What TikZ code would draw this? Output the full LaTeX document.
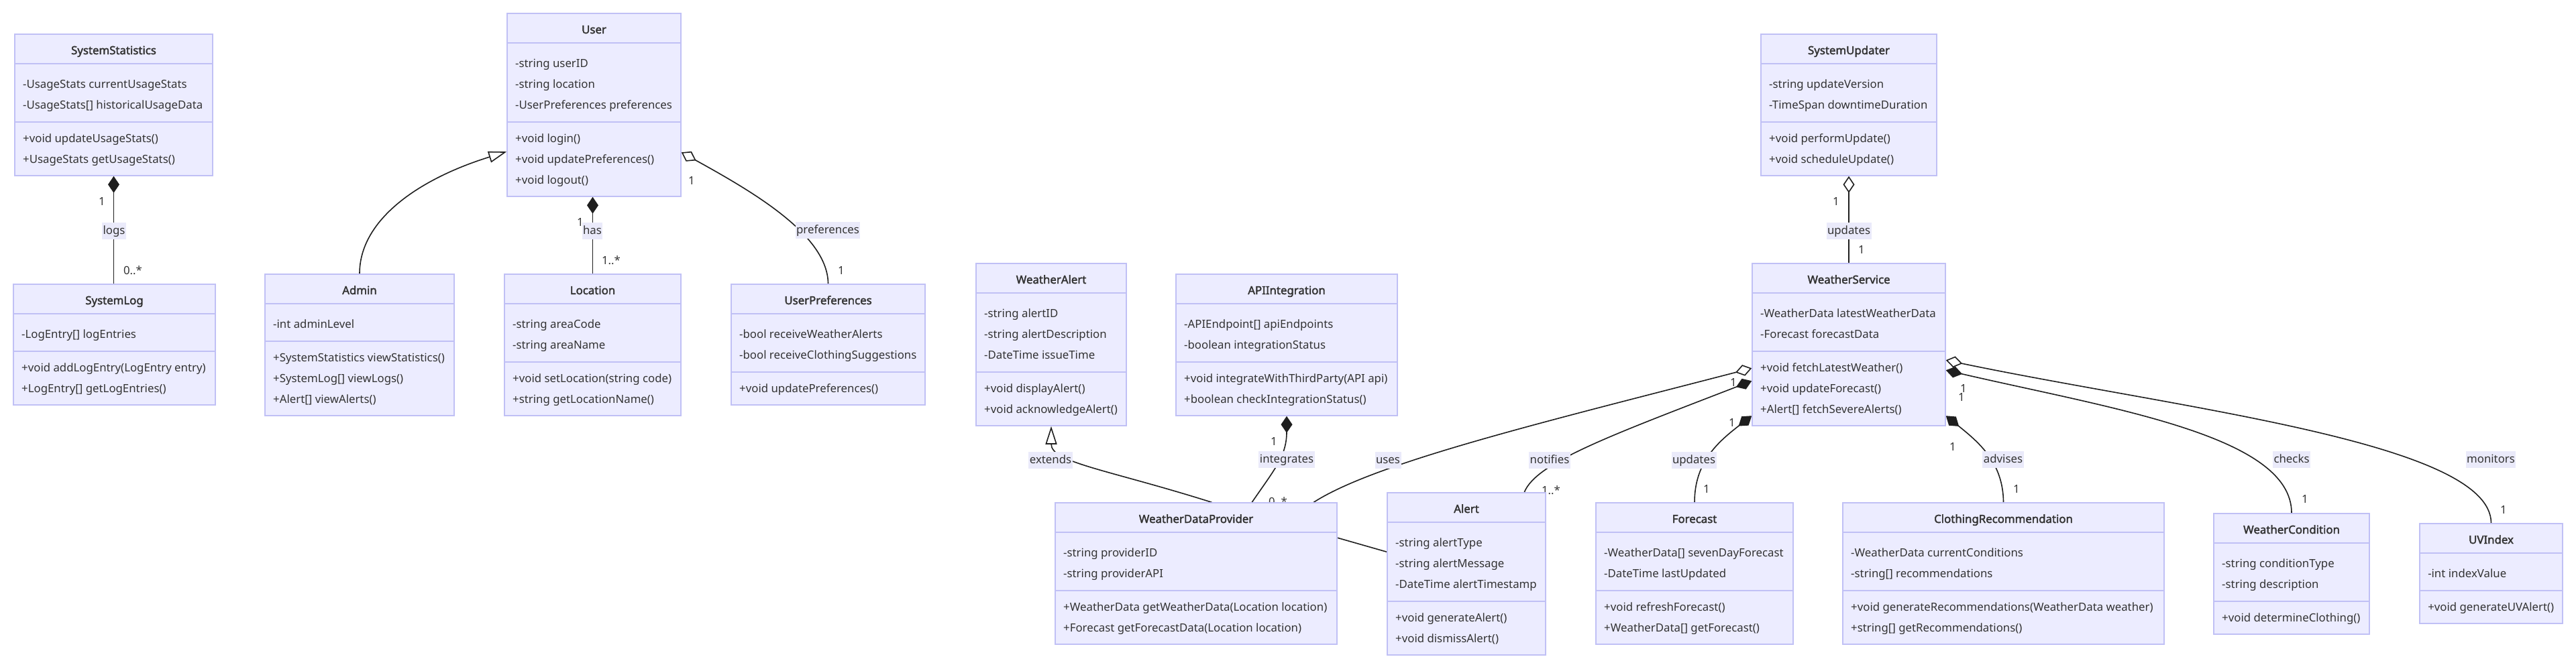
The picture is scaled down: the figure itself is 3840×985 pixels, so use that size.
\documentclass[tikz,border=0pt]{standalone}
\usepackage{fontspec}
\setmainfont{Noto Sans}[AutoFakeBold=2.2]
\usetikzlibrary{arrows.meta,calc}
\definecolor{boxfill}{RGB}{236,236,255}
\definecolor{boxborder}{RGB}{192,192,245}
\definecolor{txt}{RGB}{51,51,51}
\definecolor{linec}{RGB}{30,30,30}
\definecolor{lblbg}{RGB}{234,234,250}
\pgfdeclarelayer{background}
\pgfsetlayers{background,main}
\newcommand{\dfont}{\fontsize{16.8}{20}\selectfont}
\tikzset{
 classbox/.style={draw=boxborder, fill=boxfill, line width=1.5pt, inner sep=0pt, rectangle},
 sepline/.style={draw=boxborder, line width=1.5pt},
 titletext/.style={font=\dfont\bfseries, text=txt, inner sep=0pt, text height=13pt, text depth=3pt},
 membertext/.style={font=\dfont, text=txt, anchor=west, inner sep=0pt, text height=13pt, text depth=3pt},
 edge/.style={draw=linec, line width=1.6pt},
 elabel/.style={fill=lblbg, font=\dfont, text=txt, inner xsep=1.5pt, inner ysep=4.5pt, text height=13pt, text depth=3pt},
 card/.style={font=\dfont, text=txt, inner sep=0pt},
 comp/.style={{Diamond[length=25pt,width=17pt]}-},
 aggr/.style={{Diamond[open,length=25pt,width=17pt]}-},
 inher/.style={-{Triangle[open,length=27pt,width=17pt]}},
}
% #1 name #2 xl #3 xr #4 ytop #5 nattr #6 nmeth #7 title #8 attrs #9 methods
\newcommand{\umlclass}[9]{%
  \pgfmathsetmacro{\bw}{#3-#2}%
  \pgfmathsetmacro{\bh}{87+31*(#5+#6)}%
  \pgfmathsetmacro{\sa}{#4+44}%
  \pgfmathsetmacro{\sb}{#4+69+31*#5}%
  \node[classbox, minimum width=\bw pt, minimum height=\bh pt] (#1) at ({(#2+#3)/2}, {#4+\bh/2}) {};
  \draw[sepline] (#2,\sa) -- (#3,\sa);
  \draw[sepline] (#2,\sb) -- (#3,\sb);
  \node[titletext] at ({(#2+#3)/2}, {#4+25}) {#7};
  \foreach \mtx [count=\mi from 0] in {#8} { \node[membertext] at ({#2+12}, {\sa+31+31*\mi}) {\mtx}; }
  \foreach \mtx [count=\mi from 0] in {#9} { \node[membertext] at ({#2+12}, {\sb+25+31*\mi}) {\mtx}; }
}
\begin{document}
\begin{tikzpicture}[x=1pt,y=-1pt]
\useasboundingbox (0,0) rectangle (3840,985);

\umlclass{SysStat}{22}{317}{51}{2}{2}{SystemStatistics}{{-UsageStats currentUsageStats},{-UsageStats[] historicalUsageData}}{{+void updateUsageStats()},{+UsageStats getUsageStats()}}
\umlclass{SysLog}{20}{321}{424}{1}{2}{SystemLog}{{-LogEntry[] logEntries}}{{+void addLogEntry(LogEntry entry)},{+LogEntry[] getLogEntries()}}
\umlclass{Admin}{395}{677}{409}{1}{3}{Admin}{{-int adminLevel}}{{+SystemStatistics viewStatistics()},{+SystemLog[] viewLogs()},{+Alert[] viewAlerts()}}
\umlclass{User}{756}{1015}{20}{3}{3}{User}{{-string userID},{-string location},{-UserPreferences preferences}}{{+void login()},{+void updatePreferences()},{+void logout()}}
\umlclass{Location}{752}{1015}{409}{2}{2}{Location}{{-string areaCode},{-string areaName}}{{+void setLocation(string code)},{+string getLocationName()}}
\umlclass{UserPrefs}{1090}{1379}{424}{2}{1}{UserPreferences}{{-bool receiveWeatherAlerts},{-bool receiveClothingSuggestions}}{{+void updatePreferences()}}
\umlclass{WAlert}{1455}{1679}{393}{3}{2}{WeatherAlert}{{-string alertID},{-string alertDescription},{-DateTime issueTime}}{{+void displayAlert()},{+void acknowledgeAlert()}}
\umlclass{APIInt}{1753}{2083}{409}{2}{2}{APIIntegration}{{-APIEndpoint[] apiEndpoints},{-boolean integrationStatus}}{{+void integrateWithThirdParty(API api)},{+boolean checkIntegrationStatus()}}
\umlclass{WS}{2612}{2900}{393}{2}{3}{WeatherService}{{-WeatherData latestWeatherData},{-Forecast forecastData}}{{+void fetchLatestWeather()},{+void updateForecast()},{+Alert[] fetchSevereAlerts()}}
\umlclass{SysUpd}{2625}{2887}{51}{2}{2}{SystemUpdater}{{-string updateVersion},{-TimeSpan downtimeDuration}}{{+void performUpdate()},{+void scheduleUpdate()}}
\umlclass{WDP}{1573}{1993}{750}{2}{2}{WeatherDataProvider}{{-string providerID},{-string providerAPI}}{{+WeatherData getWeatherData(Location location)},{+Forecast getForecastData(Location location)}}
\umlclass{Alert}{2068}{2304}{735}{3}{2}{Alert}{{-string alertType},{-string alertMessage},{-DateTime alertTimestamp}}{{+void generateAlert()},{+void dismissAlert()}}
\umlclass{Forecast}{2379}{2673}{750}{2}{2}{Forecast}{{-WeatherData[] sevenDayForecast},{-DateTime lastUpdated}}{{+void refreshForecast()},{+WeatherData[] getForecast()}}
\umlclass{ClothRec}{2747}{3226}{750}{2}{2}{ClothingRecommendation}{{-WeatherData currentConditions},{-string[] recommendations}}{{+void generateRecommendations(WeatherData weather)},{+string[] getRecommendations()}}
\umlclass{WCond}{3300}{3532}{766}{2}{1}{WeatherCondition}{{-string conditionType},{-string description}}{{+void determineClothing()}}
\umlclass{UV}{3607}{3820}{781}{1}{1}{UVIndex}{{-int indexValue}}{{+void generateUVAlert()}}

\begin{pgfonlayer}{background}
% logs
\draw[edge,comp] (SysStat.south) -- (SysStat.south |- SysLog.north);
\node[elabel] (lLogs) at (170,344) {logs};
\node[card] (cLogs1) at (152,300) {1};
\node[card] (cLogs2) at (198,403) {0..*};
% inheritance Admin -> User
\draw[edge,inher] (Admin.north) .. controls (536,325) and (630,265) .. ($(User.north west)+(0,207)$);
% has
\draw[edge,comp] (Location.north |- User.south) -- (Location.north);
\node[elabel] (lHas) at (883,344) {has};
\node[card] (cHas1) at (865,331) {1};
\node[card] (cHas2) at (911,388) {1..*};
% preferences
\draw[edge,aggr] ($(User.north east)+(0,208)$) .. controls (1120,285) and (1234,350) .. (UserPrefs.north);
\node[elabel] (lPref) at (1234,343) {preferences};
\node[card] (cPref1) at (1031,269) {1};
\node[card] (cPref2) at (1254,403) {1};
% system updater
\draw[edge,aggr] (SysUpd.south) -- (SysUpd.south |- WS.north);
\node[elabel] (lUpd) at (2756,344) {updates};
\node[card] (cUpd1) at (2737,300) {1};
\node[card] (cUpd2) at (2775,372) {1};
% extends
\draw[edge,inher] ($(WDP.north west)+(234,0)$) .. controls (1650,700) and (1567,690) .. (WAlert.south);
\node[elabel] (lExt) at (1566,686) {extends};
% integrates
\draw[edge,comp] (APIInt.south) .. controls (1918,680) and (1900,700) .. ($(WDP.north west)+(294,0)$);
\node[elabel] (lInt) at (1918,685) {integrates};
\node[card] (cInt1) at (1899,658) {1};
\node[card] (cInt2) at (1905,748) {0..*};
% uses
\draw[edge,aggr] ($(WS.north west)+(0,157)$) .. controls (2300,630) and (2050,690) .. ($(WDP.north west)+(386,0)$);
\node[elabel] (lUses) at (2069,686) {uses};
% notifies
\draw[edge,comp] ($(WS.north west)+(0,176)$) .. controls (2400,650) and (2290,690) .. ($(Alert.north west)+(205,0)$);
\node[elabel] (lNot) at (2310,686) {notifies};
\node[card] (cNot1) at (2584,570) {1};
\node[card] (cNot2) at (2312,731) {1..*};
% updates forecast
\draw[edge,comp] ($(WS.north west)+(0,228)$) .. controls (2560,660) and (2526,690) .. (Forecast.north);
\node[elabel] (lUpF) at (2525,686) {updates};
\node[card] (cUpF1) at (2582,630) {1};
\node[card] (cUpF2) at (2544,729) {1};
% advises
\draw[edge,comp] ($(WS.north east)+(0,228)$) .. controls (2950,660) and (2986,690) .. (ClothRec.north);
\node[elabel] (lAdv) at (2986,685) {advises};
\node[card] (cAdv1) at (2911,666) {1};
\node[card] (cAdv2) at (3006,729) {1};
% checks
\draw[edge,comp] ($(WS.north east)+(0,160)$) .. controls (3150,610) and (3416,650) .. (WCond.north);
\node[elabel] (lChk) at (3416,685) {checks};
\node[card] (cChk1) at (2924,592) {1};
\node[card] (cChk2) at (3436,744) {1};
% monitors
\draw[edge,aggr] ($(WS.north east)+(0,145)$) .. controls (3250,610) and (3713,660) .. (UV.north);
\node[elabel] (lMon) at (3713,685) {monitors};
\node[card] (cMon1) at (2927,579) {1};
\node[card] (cMon2) at (3732,760) {1};
% WDP -- Alert
\draw[edge] ($(WDP.north east)+(0,53)$) -- ($(Alert.north west)+(0,89)$);
\end{pgfonlayer}
\end{tikzpicture}
\end{document}
